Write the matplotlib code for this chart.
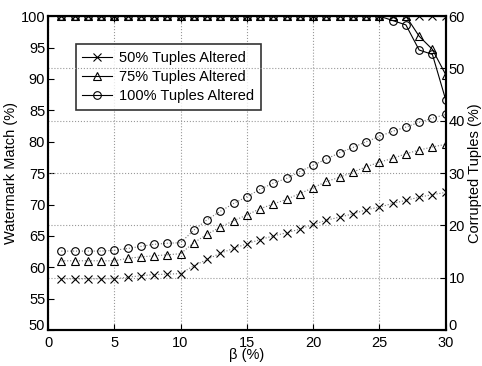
import numpy as np
import matplotlib
matplotlib.use("Agg")
import matplotlib.pyplot as plt
import matplotlib.transforms as mtransforms

plt.rcParams['font.family'] = ['Liberation Sans', 'DejaVu Sans']

beta = np.arange(1, 31)

# Watermark match (%) - left axis
match_50 = [100] * 30
match_75 = [100] * 27 + [96.8, 94.7, 90.7]
match_100 = [100] * 25 + [99.3, 98.6, 94.6, 93.9, 86.7]

# Corrupted tuples (%) - right axis
corrupt_50 = [9.8, 9.8, 9.8, 9.8, 9.8, 10.1, 10.4, 10.6, 10.7, 10.8,
              12.3, 13.5, 14.7, 15.6, 16.5, 17.3, 18.0, 18.6, 19.3, 20.2,
              21.0, 21.6, 22.2, 23.0, 23.5, 24.2, 24.8, 25.4, 25.9, 26.3]
corrupt_75 = [13.25, 13.25, 13.25, 13.25, 13.25, 13.7, 14.0, 14.2, 14.4, 14.6,
              16.7, 18.3, 19.7, 20.9, 22.0, 23.2, 24.1, 25.0, 26.1, 27.2,
              28.4, 29.2, 30.2, 31.2, 32.1, 32.8, 33.7, 34.4, 35.0, 35.5]
corrupt_100 = [15.1, 15.1, 15.1, 15.1, 15.25, 15.6, 16.0, 16.4, 16.6, 16.7,
               19.1, 21.1, 22.7, 24.2, 25.5, 26.9, 28.1, 29.0, 30.3, 31.5,
               32.7, 33.9, 34.9, 36.0, 37.0, 38.0, 38.8, 39.7, 40.5, 41.2]

labels = ['50% Tuples Altered', '75% Tuples Altered', '100% Tuples Altered']
markers = ['x', '^', 'o']

fig = plt.figure(figsize=(4.82, 3.66), dpi=100)
ax1 = fig.add_axes([0.0996, 0.098, 0.825, 0.858])
ax2 = ax1.twinx()

ms = 5.5
for y, m, lab in zip([match_50, match_75, match_100], markers, labels):
    ax1.plot(beta, y, color='black', linestyle='-', linewidth=0.8, marker=m,
             markersize=ms, markerfacecolor='none', markeredgecolor='black',
             markeredgewidth=0.8, label=lab)

for y, m in zip([corrupt_50, corrupt_75, corrupt_100], markers):
    ax2.plot(beta, y, color='#777777', linestyle=':', linewidth=0.8, marker=m,
             markersize=ms, markerfacecolor='none', markeredgecolor='black',
             markeredgewidth=0.8)

ax1.set_xlim(0, 30)
ax1.set_ylim(50, 100)
ax2.set_ylim(0, 60)
ax1.set_xticks(np.arange(0, 31, 5))
ax1.set_yticks(np.arange(50, 101, 5))
ax2.set_yticks(np.arange(0, 61, 10))

fs = 10.5
ax1.tick_params(axis='both', direction='in', labelsize=fs, length=4, width=0.8,
                top=True, pad=2)
ax1.tick_params(axis='x', pad=4)
ax2.tick_params(axis='y', direction='in', labelsize=fs, length=4, width=0.8, pad=2)

# raise the bottom y tick labels a little, as in the original
shift = mtransforms.ScaledTranslation(0, 4 / 72, fig.dpi_scale_trans)
for lab in (ax1.get_yticklabels()[0], ax2.get_yticklabels()[0]):
    lab.set_transform(lab.get_transform() + shift)

ax1.grid(axis='x', linestyle=':', color='#999999', linewidth=0.8)
ax2.grid(axis='y', linestyle=':', color='#999999', linewidth=0.8)

for ax in (ax1, ax2):
    for s in ax.spines.values():
        s.set_linewidth(1.5)

ax1.set_xlabel('β (%)', fontsize=fs, labelpad=-1)
ax1.set_ylabel('Watermark Match (%)', fontsize=fs, labelpad=2)
ax2.set_ylabel('Corrupted Tuples (%)', fontsize=fs, labelpad=2)

leg = ax1.legend(loc='upper left', bbox_to_anchor=(0.07, 0.91), fontsize=fs,
                 frameon=True, fancybox=False, edgecolor='black',
                 borderpad=0.45, labelspacing=0.35, handlelength=2.0,
                 handletextpad=0.5, borderaxespad=0)
leg.get_frame().set_linewidth(1.2)

fig.savefig('out.png', dpi=100)
